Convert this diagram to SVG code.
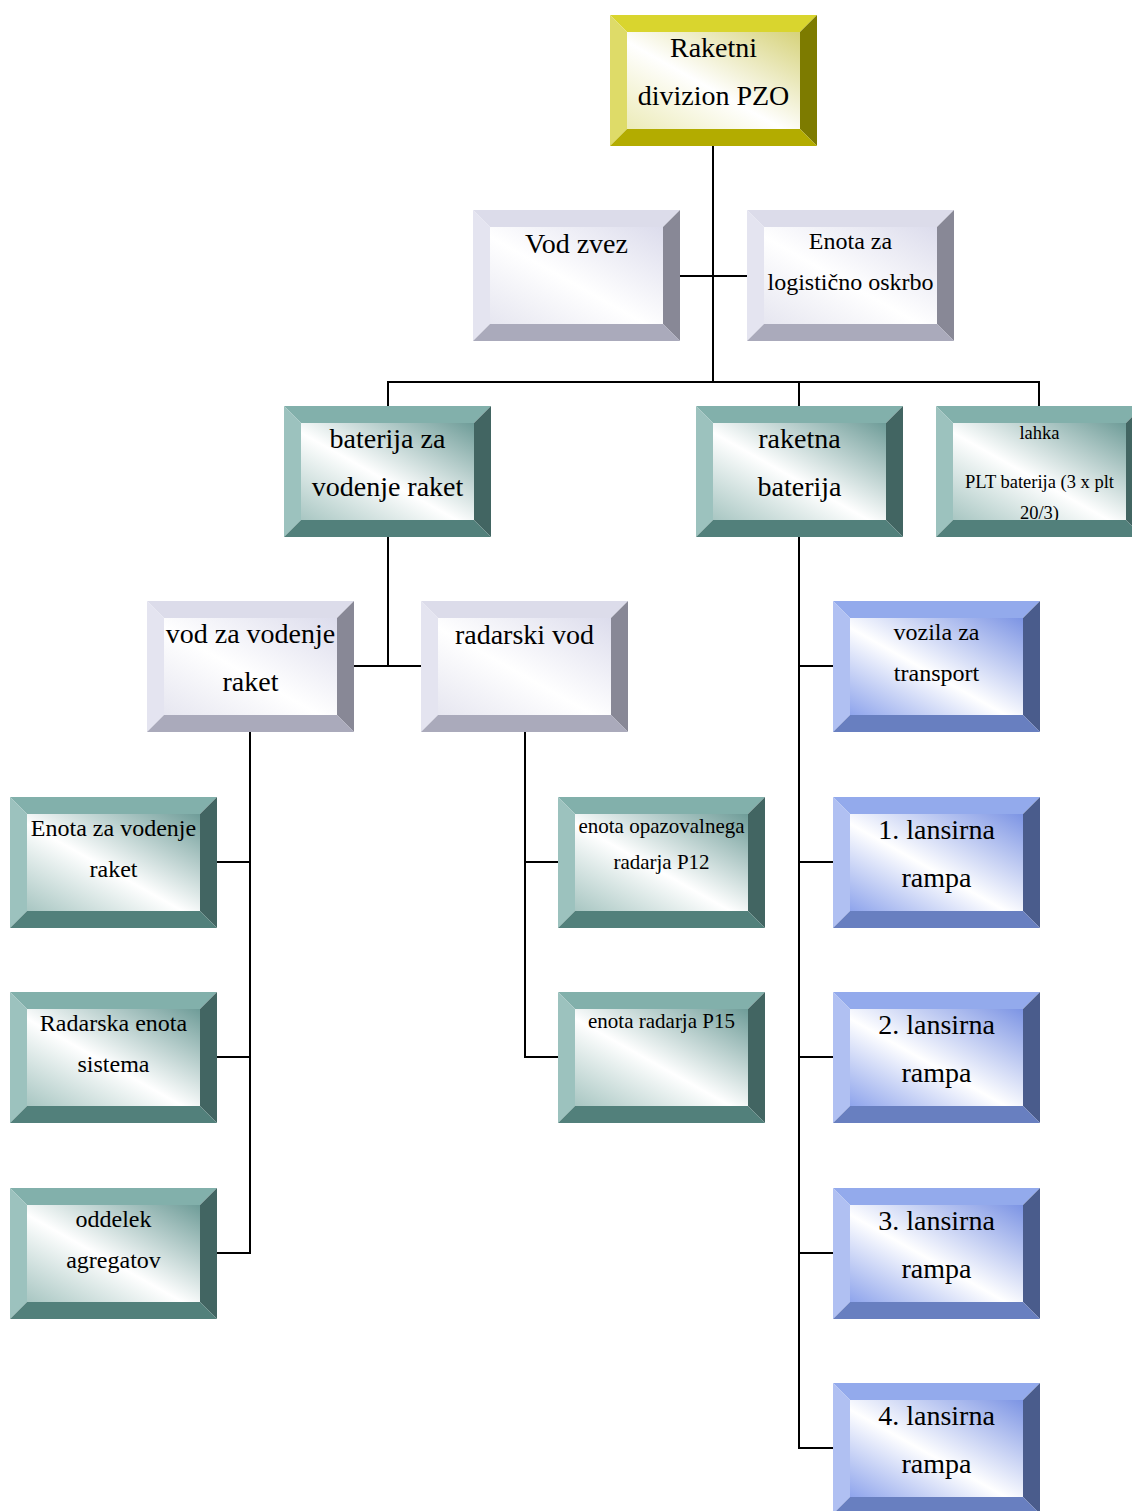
<svg xmlns="http://www.w3.org/2000/svg" xmlns:xlink="http://www.w3.org/1999/xlink" width="1132" height="1511" viewBox="0 0 1132 1511">
<style>
text{font-family:"Liberation Serif","Times New Roman",serif;fill:#000;text-anchor:middle}
.big{font-size:28px}
.med{font-size:24px}
.sm{font-size:21px}
.xs{font-size:18.5px}
.conn{fill:none;stroke:#000;stroke-width:2}
</style>
<defs>
<linearGradient id="gY" x1="0" y1="1" x2="1" y2="0"><stop offset="0" stop-color="#ecebb8"/><stop offset="0.45" stop-color="#ffffff"/><stop offset="1" stop-color="#d6d27a"/></linearGradient>
<linearGradient id="gL" x1="0" y1="1" x2="1" y2="0"><stop offset="0" stop-color="#e6e6f0"/><stop offset="0.45" stop-color="#ffffff"/><stop offset="1" stop-color="#dcdcec"/></linearGradient>
<linearGradient id="gT" x1="0" y1="1" x2="1" y2="0"><stop offset="0" stop-color="#a8c6c2"/><stop offset="0.45" stop-color="#ffffff"/><stop offset="1" stop-color="#6e9c98"/></linearGradient>
<linearGradient id="gB" x1="0" y1="1" x2="1" y2="0"><stop offset="0" stop-color="#8ea4ec"/><stop offset="0.45" stop-color="#ffffff"/><stop offset="1" stop-color="#7c94e4"/></linearGradient>
<rect id="inY" x="17" y="17" width="173" height="97" fill="url(#gY)"/>
<rect id="inL" x="17" y="17" width="173" height="97" fill="url(#gL)"/>
<rect id="inT" x="17" y="17" width="173" height="97" fill="url(#gT)"/>
<rect id="inB" x="17" y="17" width="173" height="97" fill="url(#gB)"/>
<g id="bvY">
<polygon points="0,0 207,0 190,17 17,17" fill="#d9d52e"/>
<polygon points="0,0 17,17 17,114 0,131" fill="#dedb68"/>
<polygon points="207,0 207,131 190,114 190,17" fill="#7d7b00"/>
<polygon points="0,131 17,114 190,114 207,131" fill="#b3ac00"/>
</g>
<g id="bvL">
<polygon points="0,0 207,0 190,17 17,17" fill="#dcdcea"/>
<polygon points="0,0 17,17 17,114 0,131" fill="#e4e4f0"/>
<polygon points="207,0 207,131 190,114 190,17" fill="#888896"/>
<polygon points="0,131 17,114 190,114 207,131" fill="#aaaabb"/>
</g>
<g id="bvT">
<polygon points="0,0 207,0 190,17 17,17" fill="#82b0ab"/>
<polygon points="0,0 17,17 17,114 0,131" fill="#9cc2be"/>
<polygon points="207,0 207,131 190,114 190,17" fill="#426562"/>
<polygon points="0,131 17,114 190,114 207,131" fill="#52807b"/>
</g>
<g id="bvB">
<polygon points="0,0 207,0 190,17 17,17" fill="#93aaec"/>
<polygon points="0,0 17,17 17,114 0,131" fill="#b0c0f2"/>
<polygon points="207,0 207,131 190,114 190,17" fill="#4a5c8c"/>
<polygon points="0,131 17,114 190,114 207,131" fill="#687fc0"/>
</g>
</defs>
<g id="connectors">
<path class="conn" d="M713,146 V382"/>
<path class="conn" d="M680,276 H747"/>
<path class="conn" d="M388,406 V382 H1039 V406"/>
<path class="conn" d="M799,382 V406"/>
<path class="conn" d="M388,537 V666"/>
<path class="conn" d="M354,666 H421"/>
<path class="conn" d="M250,732 V1253 H217"/>
<path class="conn" d="M217,862 H250 M217,1057 H250"/>
<path class="conn" d="M525,732 V1057 H558 M525,862 H558"/>
<path class="conn" d="M799,537 V1448 H833 M799,666 H833 M799,862 H833 M799,1057 H833 M799,1253 H833"/>
</g>
<g id="n-raketni-divizion" transform="translate(610,15)"><use href="#inY"/><text class="big" x="103.5" y="42">Raketni</text><text class="big" x="103.5" y="90">divizion PZO</text><use href="#bvY"/></g>
<g id="n-vod-zvez" transform="translate(473,210)"><use href="#inL"/><text class="big" x="103.5" y="43">Vod zvez</text><use href="#bvL"/></g>
<g id="n-logistika" transform="translate(747,210)"><use href="#inL"/><text class="med" x="103.5" y="39">Enota za</text><text class="med" x="103.5" y="80">logistično oskrbo</text><use href="#bvL"/></g>
<g id="n-baterija-vodenje" transform="translate(284,406)"><use href="#inT"/><text class="big" x="103.5" y="42">baterija za</text><text class="big" x="103.5" y="90">vodenje raket</text><use href="#bvT"/></g>
<g id="n-raketna-baterija" transform="translate(696,406)"><use href="#inT"/><text class="big" x="103.5" y="42">raketna</text><text class="big" x="103.5" y="90">baterija</text><use href="#bvT"/></g>
<g id="n-plt-baterija" transform="translate(936,406)"><use href="#inT"/><text class="xs" x="103.5" y="33">lahka</text><text class="xs" x="103.5" y="82">PLT baterija (3 x plt</text><text class="xs" x="103.5" y="113">20/3)</text><use href="#bvT"/></g>
<g id="n-vod-vodenje" transform="translate(147,601)"><use href="#inL"/><text class="big" x="103.5" y="42">vod za vodenje</text><text class="big" x="103.5" y="90">raket</text><use href="#bvL"/></g>
<g id="n-radarski-vod" transform="translate(421,601)"><use href="#inL"/><text class="big" x="103.5" y="43">radarski vod</text><use href="#bvL"/></g>
<g id="n-vozila" transform="translate(833,601)"><use href="#inB"/><text class="med" x="103.5" y="39">vozila za</text><text class="med" x="103.5" y="80">transport</text><use href="#bvB"/></g>
<g id="n-enota-vodenje" transform="translate(10,797)"><use href="#inT"/><text class="med" x="103.5" y="39">Enota za vodenje</text><text class="med" x="103.5" y="80">raket</text><use href="#bvT"/></g>
<g id="n-p12" transform="translate(558,797)"><use href="#inT"/><text class="sm" x="103.5" y="36">enota opazovalnega</text><text class="sm" x="103.5" y="72">radarja P12</text><use href="#bvT"/></g>
<g id="n-rampa1" transform="translate(833,797)"><use href="#inB"/><text class="big" x="103.5" y="42">1. lansirna</text><text class="big" x="103.5" y="90">rampa</text><use href="#bvB"/></g>
<g id="n-radarska-enota" transform="translate(10,992)"><use href="#inT"/><text class="med" x="103.5" y="39">Radarska enota</text><text class="med" x="103.5" y="80">sistema</text><use href="#bvT"/></g>
<g id="n-p15" transform="translate(558,992)"><use href="#inT"/><text class="sm" x="103.5" y="36">enota radarja P15</text><use href="#bvT"/></g>
<g id="n-rampa2" transform="translate(833,992)"><use href="#inB"/><text class="big" x="103.5" y="42">2. lansirna</text><text class="big" x="103.5" y="90">rampa</text><use href="#bvB"/></g>
<g id="n-agregati" transform="translate(10,1188)"><use href="#inT"/><text class="med" x="103.5" y="39">oddelek</text><text class="med" x="103.5" y="80">agregatov</text><use href="#bvT"/></g>
<g id="n-rampa3" transform="translate(833,1188)"><use href="#inB"/><text class="big" x="103.5" y="42">3. lansirna</text><text class="big" x="103.5" y="90">rampa</text><use href="#bvB"/></g>
<g id="n-rampa4" transform="translate(833,1383)"><use href="#inB"/><text class="big" x="103.5" y="42">4. lansirna</text><text class="big" x="103.5" y="90">rampa</text><use href="#bvB"/></g>
</svg>
